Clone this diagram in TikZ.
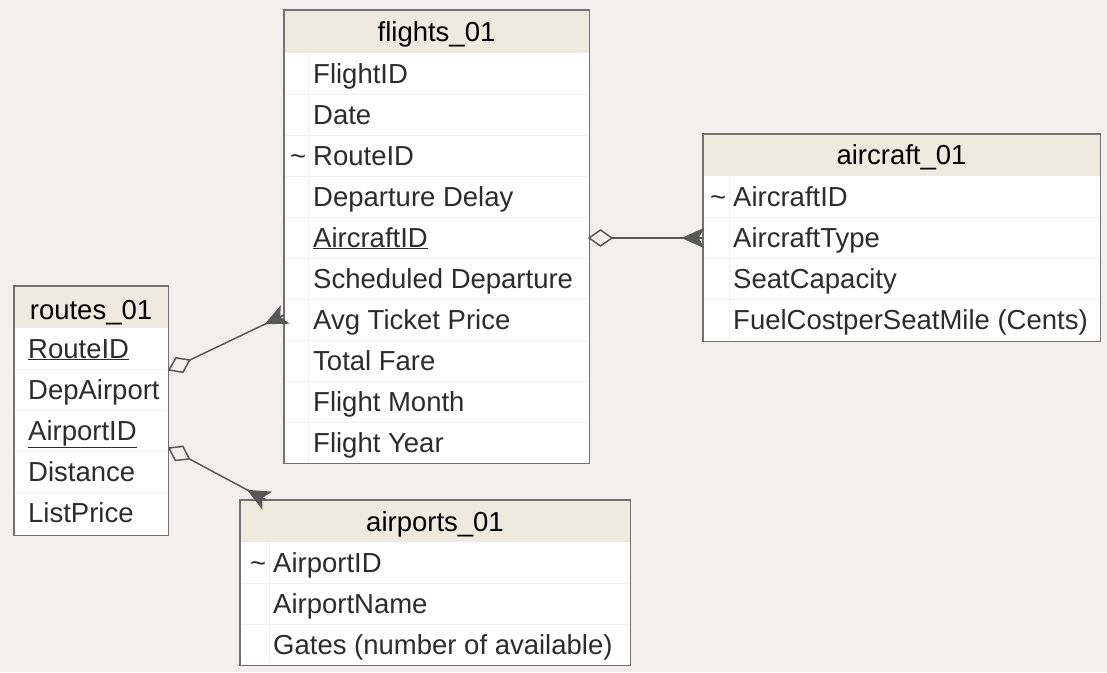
\documentclass[tikz,border=0pt]{standalone}
\usepackage{fontspec}
\setmainfont{Liberation Sans}
\usetikzlibrary{calc}

\definecolor{canvas}{HTML}{F2EFEE}
\definecolor{headfill}{HTML}{EEEADF}
\definecolor{frame}{HTML}{727272}
\definecolor{rowline}{HTML}{F0F0F0}
\definecolor{ink}{HTML}{2C2C2C}
\definecolor{link}{HTML}{585858}

\tikzset{
  tablebody/.style={fill=white, draw=none, inner sep=0pt, anchor=north west},
  tableframe/.style={draw=frame, line width=1.5pt},
  headband/.style={fill=headfill},
  tabletitle/.style={anchor=base, inner sep=0pt, text=black, font=\fontsize{27.5}{32}\selectfont},
  field/.style={anchor=base west, inner sep=0pt, text=ink, font=\fontsize{27.5}{32}\selectfont},
  rowrule/.style={draw=rowline, line width=1pt},
  relation/.style={draw=link, line width=1.5pt},
  crowtoe/.style={draw=link, fill=link, line width=1.2pt, line join=miter},
}

% crow's foot at the "many" end #1, line coming from #2
\newcommand\crowsfoot[2]{%
  \coordinate (cftip) at ($(#1)!20pt!(#2)$);
  \filldraw[crowtoe] (cftip) -- ($(#1)!9pt!90:(#2)$) -- ($(#1)!5pt!(#2)$)
    -- ($(#1)!9pt!-90:(#2)$) -- cycle;
  \draw[relation] (cftip) -- (#1);
}
% hollow aggregation diamond at #1, pointing towards #2
\newcommand\aggdiamond[2]{%
  \coordinate (dm) at ($(#1)!11.5pt!(#2)$);
  \draw[relation, fill=canvas, line join=miter]
    (#1) -- ($(dm)!8pt!90:(#2)$) -- ($(#1)!23pt!(#2)$) -- ($(dm)!8pt!-90:(#2)$) -- cycle;
}

\begin{document}
\begin{tikzpicture}[x=1pt, y=-1pt]
  \fill[canvas] (0,0) rectangle (1107,672);
  \useasboundingbox (0,0) rectangle (1107,672);

  % ---------- flights_01 ----------
  \node[tablebody, minimum width=305pt, minimum height=453pt] (flights) at (284,10) {};
  \fill[headband] (284,10) rectangle (589,53);
  \foreach \k in {1,...,9} \draw[rowrule] (285,53+41*\k) -- (588,53+41*\k);
  \draw[rowrule] (308,53) -- (308,462);
  \node[tabletitle] (flights-title) at (436.5,41) {flights\_01};
  \foreach \t [count=\i from 0] in {FlightID, Date, RouteID, Departure Delay,
      {\underline{AircraftID}}, Scheduled Departure, Avg Ticket Price,
      Total Fare, Flight Month, Flight Year}
    \node[field] (flights-\i) at (313,83+41*\i) {\t};
  \node[field] (flights-tilde) at (290,165) {\textasciitilde};
  \draw[tableframe] (flights.north west) rectangle (flights.south east);

  % ---------- aircraft_01 ----------
  \node[tablebody, minimum width=397pt, minimum height=207pt] (aircraft) at (703,134) {};
  \fill[headband] (703,134) rectangle (1100,176);
  \foreach \k in {1,...,3} \draw[rowrule] (704,176+41*\k) -- (1099,176+41*\k);
  \draw[rowrule] (729,176) -- (729,340);
  \node[tabletitle] (aircraft-title) at (901.5,164) {aircraft\_01};
  \foreach \t [count=\i from 0] in {AircraftID, AircraftType, SeatCapacity,
      FuelCostperSeatMile (Cents)}
    \node[field] (aircraft-\i) at (733,206+41*\i) {\t};
  \node[field] (aircraft-tilde) at (710,206) {\textasciitilde};
  \draw[tableframe] (aircraft.north west) rectangle (aircraft.south east);

  % ---------- routes_01 ----------
  \node[tablebody, minimum width=154pt, minimum height=249pt] (routes) at (14,286) {};
  \fill[headband] (14,286) rectangle (168,328);
  \foreach \k in {1,...,4} \draw[rowrule] (15,328+41*\k) -- (167,328+41*\k);
  \node[tabletitle] (routes-title) at (91,319) {routes\_01};
  \foreach \t [count=\i from 0] in {{\underline{RouteID}}, DepAirport,
      {\underline{AirportID}}, Distance, ListPrice}
    \node[field] (routes-\i) at (28,358+41*\i) {\t};
  \draw[tableframe] (routes.north west) rectangle (routes.south east);

  % ---------- airports_01 ----------
  \node[tablebody, minimum width=390pt, minimum height=165pt] (airports) at (240,500) {};
  \fill[headband] (240,500) rectangle (630,542);
  \foreach \k in {1,2} \draw[rowrule] (241,542+41*\k) -- (629,542+41*\k);
  \draw[rowrule] (269,542) -- (269,664);
  \node[tabletitle] (airports-title) at (435,531) {airports\_01};
  \foreach \t [count=\i from 0] in {AirportID, AirportName,
      Gates (number of available)}
    \node[field] (airports-\i) at (273,572+41*\i) {\t};
  \node[field] (airports-tilde) at (250,572) {\textasciitilde};
  \draw[tableframe] (airports.north west) rectangle (airports.south east);

  % ---------- relationships ----------
  \coordinate (fl-ac) at (589,238);
  \coordinate (ac-fl) at (703,238);
  \coordinate (ro-fl) at (169,370);
  \coordinate (fl-ro) at (284,315);
  \coordinate (ro-ap) at (169,448);
  \coordinate (ap-ro) at (266,500);

  \draw[relation] ($(fl-ac)!23pt!(ac-fl)$) -- (ac-fl);
  \aggdiamond{fl-ac}{ac-fl}
  \crowsfoot{ac-fl}{fl-ac}

  \draw[relation] ($(ro-fl)!23pt!(fl-ro)$) -- (fl-ro);
  \aggdiamond{ro-fl}{fl-ro}
  \crowsfoot{fl-ro}{ro-fl}

  \draw[relation] ($(ro-ap)!23pt!(ap-ro)$) -- (ap-ro);
  \aggdiamond{ro-ap}{ap-ro}
  \crowsfoot{ap-ro}{ro-ap}
\end{tikzpicture}
\end{document}
